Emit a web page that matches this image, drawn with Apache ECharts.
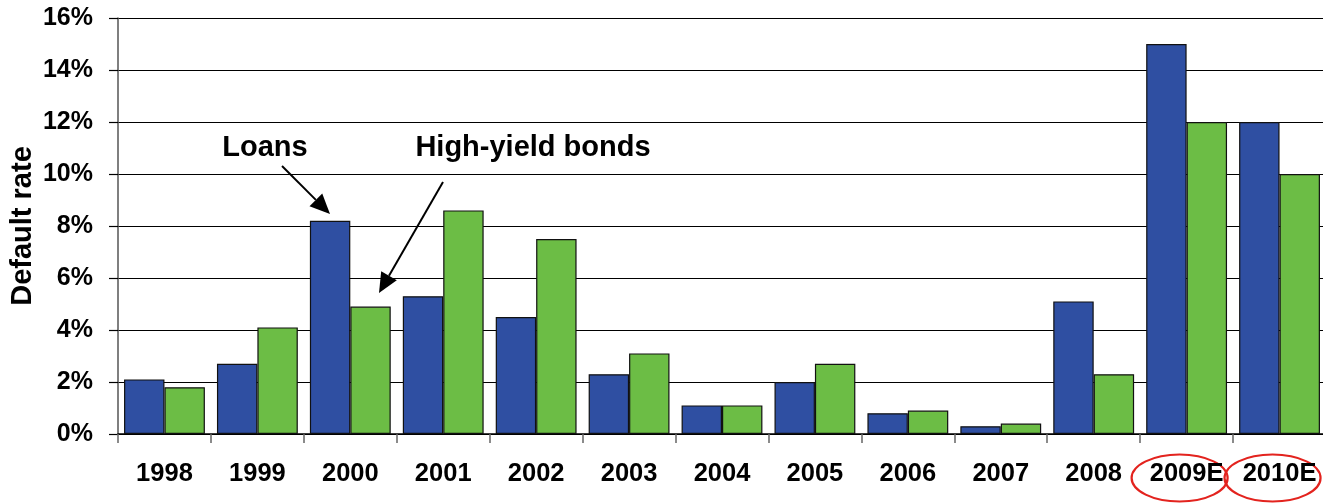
<!DOCTYPE html>
<html>
<head>
<meta charset="utf-8">
<script src="https://cdn.jsdelivr.net/npm/echarts@6/dist/echarts.min.js"></script>
<style>
  html, body { margin: 0; padding: 0; background: #fff; }
  #chart { width: 1323px; height: 503px; }
</style>
</head>
<body>
<div id="chart"></div>
<script>
// Default rates by year (percent); 2009 and 2010 are estimates
const years = ['1998', '1999', '2000', '2001', '2002', '2003', '2004', '2005', '2006', '2007', '2008', '2009E', '2010E'];
const loans = [2.1, 2.7, 8.2, 5.3, 4.5, 2.3, 1.1, 2.0, 0.8, 0.3, 5.1, 15.0, 12.0];
const highYieldBonds = [1.8, 4.1, 4.9, 8.6, 7.5, 3.1, 1.1, 2.7, 0.9, 0.4, 2.3, 12.0, 10.0];
const yTicks = { min: 0, max: 16, interval: 2 };
const estimateYears = ['2009E', '2010E'];

const FONT = '"Liberation Sans", Arial, sans-serif';
const chart = echarts.init(document.getElementById('chart'), null, { renderer: 'canvas' });

const barStyle = (color) => ({ color: color, borderColor: '#111', borderWidth: 1.2 });

chart.setOption({
  animation: false,
  grid: { left: 118, right: -3, top: 18, bottom: 69, containLabel: false, outerBoundsMode: 'none' },
  xAxis: {
    type: 'category',
    data: years,
    axisLine: { lineStyle: { color: '#000', width: 1.5 } },
    axisTick: { show: true, length: 9, lineStyle: { color: '#666', width: 1.5 } },
    axisLabel: { color: '#000', fontFamily: FONT, fontWeight: 'bold', fontSize: 25.5, margin: 27, interval: 0, hideOverlap: false }
  },
  yAxis: {
    type: 'value',
    min: yTicks.min, max: yTicks.max, interval: yTicks.interval,
    name: 'Default rate',
    nameLocation: 'middle',
    nameGap: 81,
    nameMoveOverlap: false,
    nameTextStyle: { color: '#000', fontFamily: FONT, fontWeight: 'bold', fontSize: 29 },
    axisLine: { show: true, lineStyle: { color: '#555', width: 1.5 } },
    axisTick: { show: true, length: 9, lineStyle: { color: '#000', width: 1.2 } },
    splitLine: { lineStyle: { color: '#000', width: 1.2 } },
    axisLabel: { color: '#000', fontFamily: FONT, fontWeight: 'bold', fontSize: 25, margin: 25, formatter: '{value}%' }
  },
  series: [
    { name: 'Loans', type: 'bar', data: loans, barGap: '0%', barCategoryGap: '13%', itemStyle: barStyle('#2F4FA2') },
    { name: 'High-yield bonds', type: 'bar', data: highYieldBonds, barGap: '0%', barCategoryGap: '13%', itemStyle: barStyle('#6CBD45') }
  ]
});

// Callout labels, arrows and rings around the estimated years
function drawOverlays() {
  const elements = [];
  const label = (text, x, y) => ({
    type: 'text', x: x, y: y,
    style: { text: text, fill: '#000', font: 'bold 29px ' + FONT, textAlign: 'center', textVerticalAlign: 'middle' }
  });
  const arrow = (x1, y1, x2, y2) => {
    const ang = Math.atan2(y2 - y1, x2 - x1);
    const head = 20, half = 9;
    const bx = x2 - head * Math.cos(ang), by = y2 - head * Math.sin(ang);
    const px = -Math.sin(ang) * half, py = Math.cos(ang) * half;
    return [
      { type: 'line', shape: { x1: x1, y1: y1, x2: bx, y2: by }, style: { stroke: '#000', lineWidth: 2 } },
      { type: 'polygon', shape: { points: [[x2, y2], [bx + px, by + py], [bx - px, by - py]] }, style: { fill: '#000' } }
    ];
  };
  elements.push(label('Loans', 265, 148));
  elements.push(label('High-yield bonds', 533, 148));
  elements.push(...arrow(282, 166, 330, 214));
  elements.push(...arrow(443, 182, 379, 293));

  estimateYears.forEach((yr) => {
    const p = chart.convertToPixel({ xAxisIndex: 0, yAxisIndex: 0 }, [yr, 0]);
    elements.push({
      type: 'ellipse',
      shape: { cx: p[0] - 7, cy: 478, rx: 48, ry: 23.5 },
      style: { fill: 'none', stroke: '#E3231E', lineWidth: 2.2 }
    });
  });
  chart.setOption({ graphic: { elements: elements } });
}
drawOverlays();
</script>
</body>
</html>
